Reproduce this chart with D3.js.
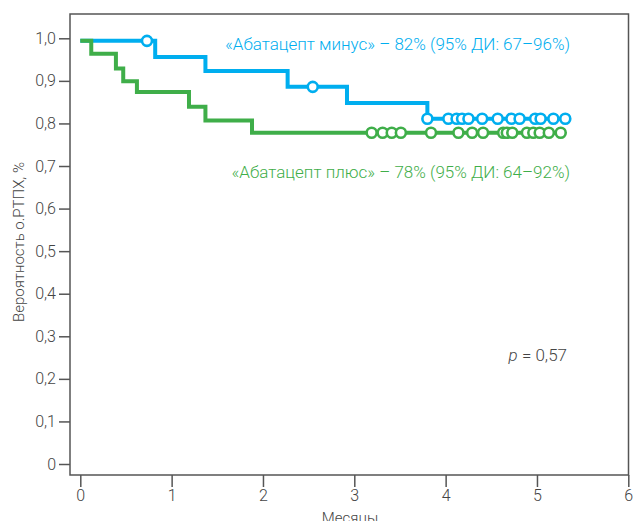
<!DOCTYPE html>
<html>
<head>
<meta charset="utf-8">
<script src="https://cdn.jsdelivr.net/npm/d3@7"></script>
<style>
  body { margin: 0; background: #fff; }
  text { font-family: Roboto, "Noto Sans", sans-serif; font-weight: 300; }
</style>
</head>
<body>
<svg id="chart" width="633" height="521"></svg>
<script>
// ---- data ----
const xTicks = [0, 1, 2, 3, 4, 5, 6];
const yTicks = [0, 0.1, 0.2, 0.3, 0.4, 0.5, 0.6, 0.7, 0.8, 0.9, 1.0];
const yTickLabels = ["0", "0,1", "0,2", "0,3", "0,4", "0,5", "0,6", "0,7", "0,8", "0,9", "1,0"];

const blueTimes = [0, 0.82, 1.37, 2.27, 2.92, 3.80];
const blueSurv  = [0.994, 0.956, 0.923, 0.886, 0.848, 0.811];
const blueEnd = 5.31;
const blueCensor = [0.73, 2.545, 3.80, 4.03, 4.12, 4.18, 4.25, 4.40, 4.57, 4.72, 4.81, 4.98, 5.04, 5.18, 5.31];

const greenTimes = [0, 0.12, 0.39, 0.47, 0.62, 1.19, 1.37, 1.88];
const greenSurv  = [0.994, 0.964, 0.929, 0.899, 0.874, 0.839, 0.807, 0.778];
const greenEnd = 5.26;
const greenCensor = [3.19, 3.31, 3.41, 3.51, 3.84, 4.14, 4.29, 4.41, 4.63, 4.67, 4.73, 4.89, 4.96, 5.03, 5.13, 5.26];

const blueLabel = "«Абатацепт минус» – 82% (95% ДИ: 67–96%)";
const greenLabel = "«Абатацепт плюс» – 78% (95% ДИ: 64–92%)";
const xTitle = "Месяцы";
const yTitle = "Вероятность о.РТПХ, %";

// ---- layout ----
const svg = d3.select("#chart");
const frame = { left: 70, top: 14, right: 628.5, bottom: 475 };
const x = d3.scaleLinear().domain([0, 6]).range([80.3, 628.3]);
const y = d3.scaleLinear().domain([0, 1]).range([464, 38.3]);
const axisColor = "#555";
const textColor = "#444";
const blue = "#00aeef";
const green = "#3fae49";

// frame
svg.append("rect")
  .attr("x", frame.left).attr("y", frame.top)
  .attr("width", frame.right - frame.left).attr("height", frame.bottom - frame.top)
  .attr("fill", "none").attr("stroke", axisColor).attr("stroke-width", 1.5);

// y axis
const yAxis = d3.axisLeft(y).tickValues(yTicks).tickSize(11).tickPadding(3)
  .tickFormat((d, i) => yTickLabels[i]);
const gy = svg.append("g").attr("transform", `translate(${frame.left},0)`).call(yAxis);
gy.select(".domain").remove();
gy.selectAll(".tick line").attr("stroke", axisColor).attr("stroke-width", 1.5);
gy.selectAll(".tick text").attr("fill", textColor).style("font-size", "16px")
  .style("font-family", "Roboto, sans-serif").style("font-weight", 300);

// x axis
const xAxis = d3.axisBottom(x).tickValues(xTicks).tickSize(12).tickPadding(3).tickFormat(d3.format("d"));
const gx = svg.append("g").attr("transform", `translate(0,${frame.bottom})`).call(xAxis);
gx.select(".domain").remove();
gx.selectAll(".tick line").attr("stroke", axisColor).attr("stroke-width", 1.5);
gx.selectAll(".tick text").attr("fill", textColor).style("font-size", "16px")
  .style("font-family", "Roboto, sans-serif").style("font-weight", 300);

// titles
svg.append("text").attr("x", 350).attr("y", 523).attr("text-anchor", "middle")
  .attr("fill", textColor).style("font-size", "15px").text(xTitle);
svg.append("text").attr("transform", "translate(24,242) rotate(-90)").attr("text-anchor", "middle")
  .attr("fill", textColor).style("font-size", "15px").text(yTitle);

// curves
function stepPoints(times, surv, end) {
  const pts = times.map((t, i) => [t, surv[i]]);
  pts.push([end, surv[surv.length - 1]]);
  return pts;
}
function survAt(times, surv, t) {
  let v = surv[0];
  for (let i = 0; i < times.length; i++) if (times[i] <= t + 1e-9) v = surv[i];
  return v;
}
const line = d3.line().x(d => x(d[0])).y(d => y(d[1])).curve(d3.curveStepAfter);

const series = [
  { times: blueTimes, surv: blueSurv, end: blueEnd, censor: blueCensor, color: blue },
  { times: greenTimes, surv: greenSurv, end: greenEnd, censor: greenCensor, color: green }
];

series.forEach(s => {
  svg.append("path").datum(stepPoints(s.times, s.surv, s.end))
    .attr("d", line).attr("fill", "none").attr("stroke", s.color).attr("stroke-width", 4);
});
series.forEach(s => {
  svg.append("g").selectAll("circle").data(s.censor).join("circle")
    .attr("cx", d => x(d)).attr("cy", d => y(survAt(s.times, s.surv, d)))
    .attr("r", 5).attr("fill", "#fff").attr("stroke", s.color).attr("stroke-width", 2.6);
});

// annotations
svg.append("text").attr("x", 570).attr("y", 50).attr("text-anchor", "end")
  .attr("fill", blue).style("font-size", "17px").text(blueLabel);
svg.append("text").attr("x", 570).attr("y", 178).attr("text-anchor", "end")
  .attr("fill", green).style("font-size", "17px").text(greenLabel);

const pt = svg.append("text").attr("x", 567).attr("y", 361).attr("text-anchor", "end")
  .attr("fill", textColor).style("font-size", "17px");
pt.append("tspan").style("font-style", "italic").text("p");
pt.append("tspan").text(" = 0,57");
</script>
</body>
</html>
